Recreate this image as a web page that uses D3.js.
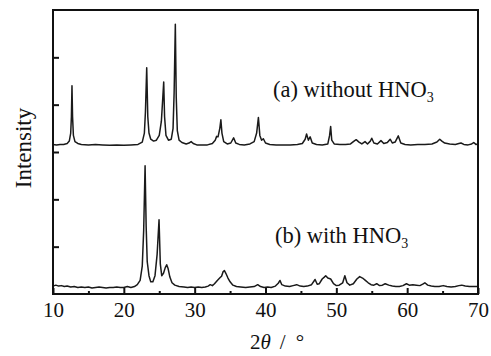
<!DOCTYPE html>
<html>
<head>
<meta charset="utf-8">
<script src="https://cdn.jsdelivr.net/npm/d3@7"></script>
<style>
  body { margin: 0; background: #fff; }
  text { font-family: "Liberation Serif", "Times New Roman", serif; fill: #111; }
</style>
</head>
<body>
<div id="chart"></div>
<script>
// 2theta ticks and intensity ticks (unlabelled)
var xTicks = [10, 20, 30, 40, 50, 60, 70];
var xMinorTicks = [15, 25, 35, 45, 55, 65];
var yTicks = [1, 2, 3, 4, 5];

// (a) without HNO3 : [2theta, intensity a.u.]
var patternA = [
  [10.0, 0.01], [10.5, 0.0], [11.0, 0.01], [11.5, 0.01], [12.0, 0.03], [12.3, 0.08], [12.5, 0.25], [12.6, 0.6],
  [12.68, 1.25], [12.76, 0.6], [12.88, 0.2], [13.1, 0.07], [13.5, 0.03], [14, 0.01], [15, 0.0], [16, 0.01],
  [17, 0.0], [18, -0.01], [19, 0.0], [20, -0.01], [21, 0.0], [22, 0.01], [22.6, 0.06], [22.9, 0.25],
  [23.05, 0.7], [23.23, 1.63], [23.38, 0.6], [23.55, 0.25], [23.8, 0.12], [24.2, 0.08], [24.6, 0.1], [25.0, 0.2],
  [25.3, 0.5], [25.5, 1.0], [25.63, 1.33], [25.75, 0.6], [25.95, 0.2], [26.3, 0.1], [26.7, 0.12], [26.95, 0.35],
  [27.1, 1.1], [27.27, 2.55], [27.4, 1.0], [27.55, 0.3], [27.8, 0.1], [28.2, 0.05], [28.8, 0.02], [29.2, 0.04],
  [29.5, 0.07], [29.8, 0.03], [30.3, 0.0], [31, 0.0], [31.8, 0.0], [32.5, 0.03], [32.9, 0.1], [33.1, 0.18],
  [33.3, 0.17], [33.55, 0.35], [33.7, 0.53], [33.85, 0.25], [34.1, 0.07], [34.6, 0.02], [35.1, 0.04], [35.5, 0.15],
  [35.8, 0.04], [36.3, 0.01], [37, 0.0], [37.8, 0.02], [38.4, 0.07], [38.75, 0.25], [39.0, 0.58], [39.2, 0.2],
  [39.45, 0.1], [39.7, 0.13], [40.0, 0.04], [40.6, 0.01], [41.5, 0.0], [42.5, 0.0], [43.5, 0.0], [44.5, 0.01],
  [45.2, 0.03], [45.6, 0.12], [45.8, 0.23], [46.05, 0.1], [46.3, 0.17], [46.6, 0.04], [47.2, 0.01], [48, 0.0],
  [48.8, 0.02], [49.05, 0.2], [49.2, 0.39], [49.35, 0.1], [49.7, 0.02], [50.5, 0.01], [51.3, 0.01], [52.0, 0.02],
  [52.5, 0.08], [52.8, 0.11], [53.2, 0.06], [53.6, 0.02], [54.05, 0.07], [54.4, 0.02], [54.8, 0.08], [55.0, 0.14],
  [55.3, 0.04], [55.8, 0.02], [56.3, 0.09], [56.7, 0.03], [57.2, 0.05], [57.6, 0.12], [57.9, 0.04], [58.3, 0.06],
  [58.75, 0.19], [59.1, 0.04], [59.7, 0.01], [60.5, 0.0], [61.5, 0.01], [62.5, 0.01], [63.5, 0.02], [64.2, 0.06],
  [64.6, 0.12], [64.9, 0.08], [65.3, 0.04], [66, 0.02], [66.8, 0.01], [67.3, 0.03], [67.6, 0.04], [68, 0.01],
  [68.6, 0.0], [69.1, 0.02], [69.4, 0.05], [69.7, 0.01], [70, 0.02]
];

// (b) with HNO3
var patternB = [
  [10.0, 0.03], [10.4, 0.05], [10.8, 0.03], [11.2, 0.04], [11.6, 0.02], [12, 0.03], [12.5, 0.01], [13, 0.02],
  [13.5, 0.0], [14, 0.01], [14.5, 0.0], [15, 0.01], [15.5, -0.01], [16, 0.0], [16.5, 0.01], [17, 0.0],
  [17.5, -0.01], [18, 0.0], [18.5, 0.0], [19, 0.01], [19.5, 0.0], [20, 0.0], [20.5, 0.02], [21, 0.0],
  [21.5, 0.02], [21.9, 0.06], [22.3, 0.15], [22.6, 0.45], [22.8, 1.2], [23.0, 2.57], [23.15, 1.3], [23.3, 0.55],
  [23.55, 0.25], [23.8, 0.12], [24.1, 0.12], [24.4, 0.25], [24.7, 0.7], [24.97, 1.43], [25.15, 0.5], [25.35, 0.25],
  [25.6, 0.3], [25.85, 0.42], [26.05, 0.48], [26.25, 0.4], [26.5, 0.22], [26.8, 0.1], [27.2, 0.05], [27.8, 0.02],
  [28.5, 0.01], [29, 0.0], [29.5, 0.01], [30, 0.0], [30.5, 0.01], [31, 0.0], [31.5, 0.01], [31.9, 0.03],
  [32.2, 0.06], [32.5, 0.04], [32.8, 0.08], [33.2, 0.15], [33.6, 0.21], [33.8, 0.24], [34.0, 0.33], [34.2, 0.36],
  [34.4, 0.3], [34.7, 0.2], [35.0, 0.12], [35.4, 0.05], [35.9, 0.02], [36.5, 0.01], [37.2, 0.0], [37.8, 0.01],
  [38.4, 0.02], [38.9, 0.06], [39.3, 0.02], [39.8, 0.0], [40.3, 0.01], [40.8, 0.0], [41.4, 0.03], [41.8, 0.09],
  [42.05, 0.15], [42.3, 0.06], [42.8, 0.03], [43.4, 0.02], [43.9, 0.04], [44.4, 0.06], [44.9, 0.03], [45.4, 0.02],
  [45.9, 0.03], [46.5, 0.06], [47.0, 0.17], [47.3, 0.07], [47.6, 0.08], [48.0, 0.18], [48.3, 0.22], [48.5, 0.25],
  [48.8, 0.2], [49.2, 0.18], [49.6, 0.08], [50.0, 0.04], [50.4, 0.05], [50.9, 0.1], [51.2, 0.25], [51.5, 0.1],
  [51.9, 0.05], [52.4, 0.08], [52.9, 0.18], [53.3, 0.23], [53.7, 0.2], [54.1, 0.15], [54.5, 0.1], [54.9, 0.06],
  [55.3, 0.05], [55.7, 0.08], [56.1, 0.04], [56.5, 0.05], [56.9, 0.08], [57.4, 0.05], [57.9, 0.03], [58.4, 0.02],
  [58.9, 0.02], [59.4, 0.04], [59.9, 0.08], [60.3, 0.05], [60.8, 0.06], [61.3, 0.05], [61.8, 0.04], [62.2, 0.07],
  [62.5, 0.1], [62.9, 0.05], [63.4, 0.03], [63.9, 0.02], [64.5, 0.02], [65.1, 0.04], [65.6, 0.02], [66.2, 0.01],
  [66.8, 0.02], [67.3, 0.04], [67.7, 0.05], [68.2, 0.03], [68.8, 0.02], [69.4, 0.02], [70, 0.02]
];

// vertical offset of each pattern (stacked plot)
var offsets = [3.15, 0.137];
var seriesLabels = ["(a) without HNO", "(b) with HNO"];
var labelAt = [[41.06, 4.16], [41.34, 1.08]];

var margin = { top: 10, right: 13, bottom: 62, left: 53 },
    width = 491 - margin.left - margin.right,
    height = 356 - margin.top - margin.bottom;

var x = d3.scaleLinear().domain([10, 70]).range([0, width]);
var y = d3.scaleLinear().domain([0, 6]).range([height, 0]);

var svg = d3.select("#chart").append("svg")
    .attr("width", 491)
    .attr("height", 356)
    .append("g")
    .attr("transform", "translate(" + margin.left + "," + margin.top + ")");

//patterns
[patternA, patternB].forEach(function (pat, i) {
    var line = d3.line()
        .x(function (d) { return x(d[0]); })
        .y(function (d) { return y(d[1] + offsets[i]); });
    svg.append("path")
        .datum(pat)
        .attr("fill", "none")
        .attr("stroke", "#1a1a1a")
        .attr("stroke-width", 1.5)
        .attr("stroke-linejoin", "round")
        .attr("d", line);
});

//axes, ticks pointing inward
svg.append("g")
    .attr("transform", "translate(0," + height + ")")
    .call(d3.axisBottom(x).tickValues(xTicks).tickSizeInner(-6).tickSizeOuter(0).tickPadding(8))
    .call(function (g) { g.select(".domain").remove(); })
    .call(function (g) {
        g.selectAll("line").attr("stroke", "#111").attr("stroke-width", 2);
        g.selectAll("text").attr("font-size", 21).attr("font-family", "Liberation Serif").attr("fill", "#111");
    });

svg.append("g")
    .attr("transform", "translate(0," + height + ")")
    .call(d3.axisBottom(x).tickValues(xMinorTicks).tickSizeInner(-3).tickSizeOuter(0).tickFormat(""))
    .call(function (g) { g.select(".domain").remove(); })
    .call(function (g) { g.selectAll("line").attr("stroke", "#111").attr("stroke-width", 2); });

svg.append("g")
    .call(d3.axisLeft(y).tickValues(yTicks).tickSizeInner(-6).tickSizeOuter(0).tickFormat(""))
    .call(function (g) { g.select(".domain").remove(); })
    .call(function (g) { g.selectAll("line").attr("stroke", "#111").attr("stroke-width", 2); });

//frame
svg.append("rect")
    .attr("width", width)
    .attr("height", height)
    .attr("fill", "none")
    .attr("stroke", "#111")
    .attr("stroke-width", 2);

//series labels with subscript 3
seriesLabels.forEach(function (s, i) {
    var t = svg.append("text")
        .attr("x", x(labelAt[i][0]))
        .attr("y", y(labelAt[i][1]))
        .attr("font-size", 22.5);
    t.append("tspan").text(s);
    t.append("tspan").attr("font-size", 14).attr("dy", 5).text("3");
});

//axis titles
var xt = svg.append("text")
    .attr("x", 197)
    .attr("y", height + 55)
    .attr("font-size", 21);
xt.append("tspan").text("2");
xt.append("tspan").attr("font-style", "italic").text("θ");
xt.append("tspan").attr("dx", 9).text("/");
xt.append("tspan").attr("dx", 10).text("°");

svg.append("text")
    .attr("transform", "rotate(-90)")
    .attr("x", -138)
    .attr("y", -22)
    .attr("text-anchor", "middle")
    .attr("font-size", 23)
    .text("Intensity");
</script>
</body>
</html>
